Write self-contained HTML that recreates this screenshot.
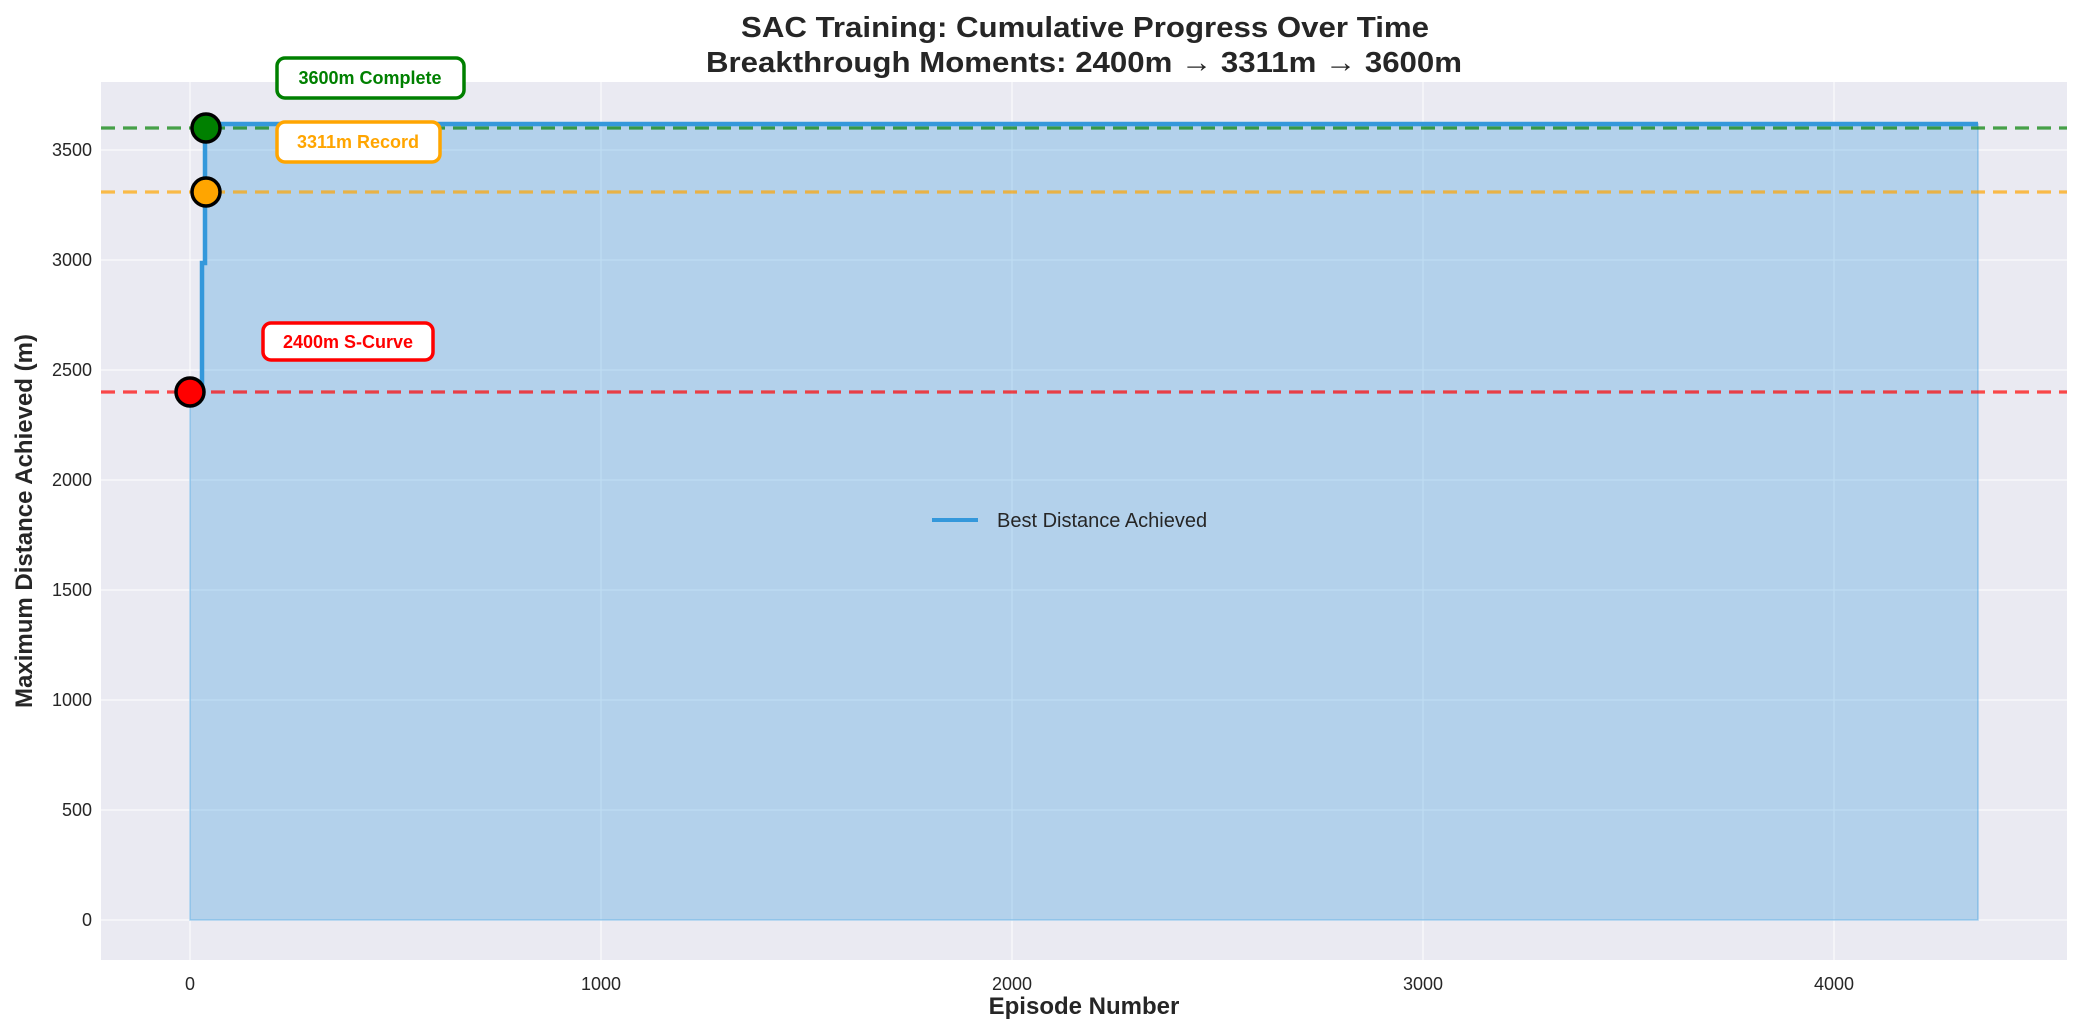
<!DOCTYPE html>
<html><head><meta charset="utf-8"><style>html,body{margin:0;padding:0;background:#fff}svg{display:block}</style></head>
<body>
<svg width="2082" height="1034" viewBox="0 0 2082 1034" xmlns="http://www.w3.org/2000/svg" font-family="Liberation Sans, Arial, sans-serif">
<rect x="101" y="82" width="1966" height="878" fill="#eaeaf2"/>
<g stroke="#ffffff" stroke-width="1.3" opacity="0.8">
<line x1="190" y1="82" x2="190" y2="960"/><line x1="601" y1="82" x2="601" y2="960"/><line x1="1012" y1="82" x2="1012" y2="960"/><line x1="1423" y1="82" x2="1423" y2="960"/><line x1="1834" y1="82" x2="1834" y2="960"/>
<line x1="101" y1="920" x2="2067" y2="920"/><line x1="101" y1="810" x2="2067" y2="810"/><line x1="101" y1="700" x2="2067" y2="700"/><line x1="101" y1="590" x2="2067" y2="590"/><line x1="101" y1="480" x2="2067" y2="480"/><line x1="101" y1="370" x2="2067" y2="370"/><line x1="101" y1="260" x2="2067" y2="260"/><line x1="101" y1="150" x2="2067" y2="150"/>
</g>
<path d="M190 920 L190 392 L202 392 L202 263 L205 263 L205 124 L1978 124 L1978 920 Z" fill="#3498db" fill-opacity="0.3" stroke="#3498db" stroke-opacity="0.4" stroke-width="1.5"/>
<g stroke-width="3.3" stroke-dasharray="14,8" fill="none">
<line x1="101" y1="392" x2="2067" y2="392" stroke="#ff0000" stroke-opacity="0.7"/>
<line x1="101" y1="192" x2="2067" y2="192" stroke="#ffa500" stroke-opacity="0.7"/>
<line x1="101" y1="128" x2="2067" y2="128" stroke="#008000" stroke-opacity="0.7"/>
</g>
<path d="M190 392 L202 392 L202 263 L205 263 L205 124 L1978 124" fill="none" stroke="#3498db" stroke-width="4.5"/>
<circle cx="190" cy="392" r="14" fill="#ff0000" stroke="#000" stroke-width="3.5"/>
<circle cx="206" cy="192" r="14" fill="#ffa500" stroke="#000" stroke-width="3.5"/>
<circle cx="206" cy="128" r="14" fill="#008000" stroke="#000" stroke-width="3.5"/>
<rect x="277" y="58" width="187" height="40" rx="8" fill="#fff" stroke="#008000" stroke-width="3.5"/>
<text x="370" y="84" text-anchor="middle" font-size="18" font-weight="bold" fill="#008000">3600m Complete</text>
<rect x="277" y="122" width="163" height="40" rx="8" fill="#fff" stroke="#ffa500" stroke-width="3.5"/>
<text x="358" y="148" text-anchor="middle" font-size="18" font-weight="bold" fill="#ffa500">3311m Record</text>
<rect x="263" y="323" width="170" height="37" rx="8" fill="#fff" stroke="#ff0000" stroke-width="3.5"/>
<text x="348" y="348" text-anchor="middle" font-size="18" font-weight="bold" fill="#ff0000">2400m S-Curve</text>
<line x1="932" y1="520" x2="978" y2="520" stroke="#3498db" stroke-width="4"/>
<text x="997" y="527" font-size="20" fill="#262626">Best Distance Achieved</text>
<g font-size="18" fill="#262626" text-anchor="end">
<text x="92" y="926">0</text><text x="92" y="816">500</text><text x="92" y="706">1000</text><text x="92" y="596">1500</text><text x="92" y="486">2000</text><text x="92" y="376">2500</text><text x="92" y="266">3000</text><text x="92" y="156">3500</text>
</g>
<g font-size="18" fill="#262626" text-anchor="middle">
<text x="190" y="990">0</text><text x="601" y="990">1000</text><text x="1012" y="990">2000</text><text x="1423" y="990">3000</text><text x="1834" y="990">4000</text>
</g>
<text x="1084" y="1014" text-anchor="middle" font-size="24" font-weight="bold" fill="#262626">Episode Number</text>
<text transform="translate(32,521) rotate(-90)" text-anchor="middle" font-size="24" font-weight="bold" fill="#262626">Maximum Distance Achieved (m)</text>
<text x="1085" y="37" text-anchor="middle" font-size="29" font-weight="bold" fill="#262626" textLength="688" lengthAdjust="spacingAndGlyphs">SAC Training: Cumulative Progress Over Time</text>
<text x="1084" y="72" text-anchor="middle" font-size="29" font-weight="bold" fill="#262626" textLength="756" lengthAdjust="spacingAndGlyphs">Breakthrough Moments: 2400m → 3311m → 3600m</text>
</svg>
</body></html>
